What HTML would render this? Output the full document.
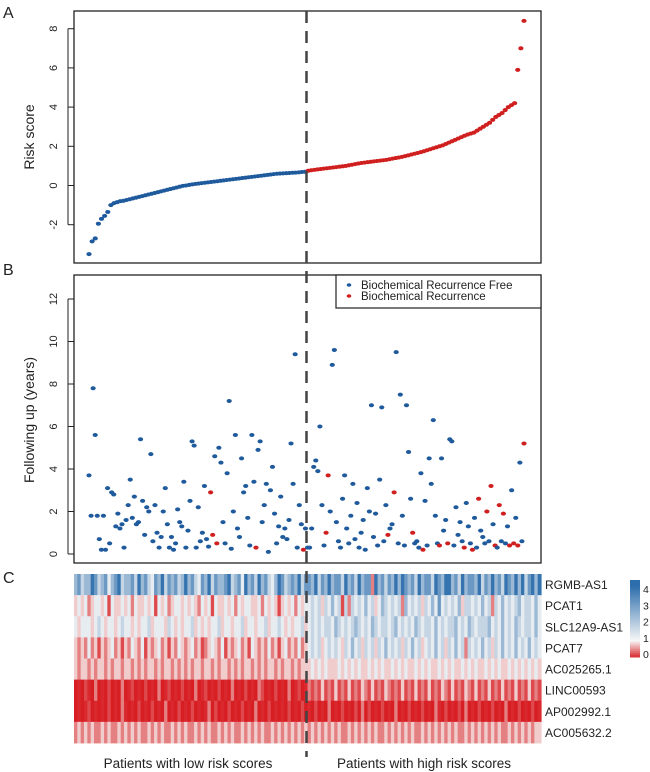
<!DOCTYPE html>
<html><head><meta charset="utf-8"><style>
body{margin:0;background:#fff;}
svg{display:block;font-family:"Liberation Sans",Arial,sans-serif;}
</style></head><body>
<svg id="fig" width="650" height="772" viewBox="0 0 650 772"></svg>
<script>
const riskLow=[-3.5,-2.85,-2.7,-1.95,-1.7,-1.55,-1.35,-1.0,-0.9,-0.85,-0.8,-0.78,-0.74,-0.7,-0.66,-0.62,-0.58,-0.54,-0.5,-0.46,-0.42,-0.38,-0.34,-0.3,-0.26,-0.22,-0.18,-0.14,-0.1,-0.06,-0.02,0.0,0.03,0.06,0.08,0.1,0.12,0.14,0.16,0.18,0.2,0.22,0.24,0.26,0.28,0.3,0.32,0.34,0.36,0.38,0.4,0.42,0.44,0.46,0.48,0.5,0.52,0.54,0.56,0.58,0.6,0.61,0.62,0.63,0.64,0.65,0.66,0.67,0.69,0.7];
const riskHigh=[0.75,0.78,0.8,0.82,0.84,0.86,0.88,0.9,0.92,0.94,0.96,0.98,1.0,1.03,1.06,1.09,1.12,1.15,1.17,1.19,1.21,1.23,1.25,1.27,1.29,1.31,1.34,1.37,1.4,1.43,1.46,1.5,1.54,1.58,1.62,1.66,1.7,1.75,1.8,1.85,1.9,1.95,2.0,2.05,2.12,2.19,2.26,2.33,2.4,2.47,2.54,2.6,2.65,2.7,2.8,2.9,3.0,3.1,3.2,3.35,3.5,3.6,3.7,3.85,4.0,4.1,4.2,5.9,7.0,8.4];
const riskTicks=[-2,0,2,4,6,8];
const followUp=[3.7,1.8,7.8,5.6,1.8,0.7,0.2,1.8,0.2,3.1,0.5,2.9,2.8,1.3,1.9,1.2,1.4,0.3,1.6,2.3,3.5,1.7,2.7,1.4,1.5,5.4,2.5,0.9,2.2,2.0,4.7,0.6,2.3,1.0,0.3,0.8,2.0,3.1,1.4,0.3,0.8,0.2,0.5,2.1,1.5,1.3,3.4,0.3,1.1,2.5,5.3,5.1,0.3,2.2,0.6,1.0,3.2,0.7,0.35,2.9,0.9,4.6,0.5,5.0,4.3,1.5,0.5,3.8,7.2,0.25,2.0,5.6,1.2,0.8,4.5,2.9,3.2,1.7,0.4,5.6,3.4,0.3,4.9,5.3,1.5,2.3,3.3,0.1,3.0,4.1,1.9,0.5,1.3,2.7,0.8,1.2,0.7,1.6,5.2,3.3,9.4,0.3,2.3,1.4,0.2,1.2,0.3,
0.3,1.2,4.1,4.4,3.9,6.0,2.3,0.4,1.0,3.7,2.0,8.9,9.6,1.5,0.6,0.3,2.6,3.7,1.2,0.5,1.8,3.3,0.7,2.4,0.3,1.0,1.6,0.2,3.1,2.0,7.0,0.8,1.9,0.4,3.5,6.9,0.6,2.3,0.9,1.2,1.4,2.9,9.5,0.5,7.5,1.8,0.4,7.0,4.8,2.6,1.0,0.5,0.6,0.3,3.8,0.2,2.5,0.4,4.5,3.3,6.3,1.8,0.5,0.4,4.5,1.1,1.6,0.5,5.4,5.3,0.4,2.2,0.9,1.5,0.6,0.3,2.4,1.3,0.5,0.2,1.7,0.3,2.6,1.1,0.8,0.5,2.0,0.6,3.2,1.4,0.4,0.3,2.3,0.6,1.9,0.5,1.3,0.4,3.0,0.5,1.7,0.4,4.3,0.6,5.2];
const recurredIdx=[59,60,62,81,104,115,116,145,148,157,162,170,174,182,186,189,193,195,197,199,201,204,206,208,211];
const followTicks=[0,2,4,6,8,10,12];
const genes=["RGMB-AS1","PCAT1","SLC12A9-AS1","PCAT7","AC025265.1","LINC00593","AP002992.1","AC005632.2"];
// expression codes: value = d*d/20
const expr=[
"7867798678578967786978658796878679786587968778967859786978657986787968"+"8796879788697869788397868797987869788698799786978879687978698797968979",
"4545345545254454535445452545345545454354525445453545544535454245453545"+"5656465756263656575645765656375656465758565657466565756365756567566575",
"5455545654554565545455645554654545564545455645545564554556455654545564"+"5656566576565676565765665675656576566575656675657656667565756576566575",
"4343534243453424354352434534243543453423454352434534254343534245343534"+"5656456565465756465646575656465756456575646575636565756465756575657565",
"4344343443434434434343443434434343434434434344343434434343443434434344"+"4545454445454545445454544545454454545445454544545454454545445454545454",
"0102103010201030120102010301201020103012010201030102010320102010301201"+"3232423242324232432423243232423242324232432423243242324232423242324232",
"0101201010201031010201020103010201020101302010201020103010201010201020"+"1020103010201020302010201030102010201031020102030102010201030102010201",
"3434343343433434343433434343343434334343433434343343434343343434343434"+"3434343434334343434343343434343433434343434343343434343434334343434344"];
const legendTicks=[0,1,2,3,4];

const NS="http://www.w3.org/2000/svg";
const svg=document.getElementById('fig');
function mk(t,a,p){const e=document.createElementNS(NS,t);for(const k in a)e.setAttribute(k,a[k]);(p||svg).appendChild(e);return e;}
const BLUE="#1f5a9c",RED="#d01f1f";
const X0=74,X1=541;
// Panel A
const aTop=11,aBot=263;
const yA=v=>185.5-(v*19.6);
const risk=riskLow.concat(riskHigh);
const xA=i=>89+i*(524-89)/(risk.length-1);
const divX=(xA(riskLow.length-1)+xA(riskLow.length))/2;
let r=mk('rect',{x:X0,y:aTop,width:X1-X0,height:aBot-aTop,fill:'none',stroke:'#222','stroke-width':1.3});

const gA=mk('g',{});
risk.forEach((v,i)=>{const c=mk('ellipse',{cx:xA(i),cy:yA(v),rx:2.6,ry:2,fill:i<riskLow.length?BLUE:RED},gA);
});
riskTicks.forEach(t=>{const y=yA(t);mk('line',{x1:X0-6,x2:X0,y1:y,y2:y,stroke:'#222'});
const tx=mk('text',{x:0,y:0,transform:`translate(57,${y}) rotate(-90)`,'text-anchor':'middle','font-size':11,fill:'#222'});tx.textContent=t;
});
mk('line',{x1:X0-6,x2:X0-6,y1:yA(-2),y2:yA(8),stroke:'#222'});
let t=mk('text',{transform:'translate(34,137) rotate(-90)','text-anchor':'middle','font-size':14,fill:'#222'});t.textContent='Risk score';

t=mk('text',{x:3,y:18,'font-size':16,fill:'#222'});t.textContent='A';
// Panel B
const bTop=275,bBot=563;
const yB=v=>554-v*21.25;
const xB=i=>89+i*(524-89)/(followUp.length-1);
r=mk('rect',{x:X0,y:bTop,width:X1-X0,height:bBot-bTop,fill:'none',stroke:'#222','stroke-width':1.3});

const gB=mk('g',{});
followUp.forEach((v,i)=>{const c=mk('ellipse',{cx:xB(i),cy:yB(v),rx:2.6,ry:2,fill:recurredIdx.includes(i)?RED:BLUE},gB);
});
followTicks.forEach(tk=>{const y=yB(tk);mk('line',{x1:X0-6,x2:X0,y1:y,y2:y,stroke:'#222'});
const tx=mk('text',{transform:`translate(57,${y}) rotate(-90)`,'text-anchor':'middle','font-size':11,fill:'#222'});tx.textContent=tk;
});
mk('line',{x1:X0-6,x2:X0-6,y1:yB(0),y2:yB(12),stroke:'#222'});
t=mk('text',{transform:'translate(34,420) rotate(-90)','text-anchor':'middle','font-size':14,fill:'#222'});t.textContent='Following up (years)';

t=mk('text',{x:3,y:275,'font-size':16,fill:'#222'});t.textContent='B';
// legend
const lg=mk('g',{});
mk('rect',{x:336,y:275,width:205,height:33,fill:'#fff',stroke:'#222','stroke-width':1.2},lg);
[["Biochemical Recurrence Free",BLUE,286],["Biochemical Recurrence",RED,297]].forEach(([s,c,y])=>{
const e=mk('g',{},lg);
mk('ellipse',{cx:349,cy:y-1,rx:2.3,ry:1.8,fill:c},e);
const tx=mk('text',{x:361,y:y+3,'font-size':11.5,fill:'#222'},e);tx.textContent=s;});
// Heatmap
const hTop=574,hBot=743,rowH=(hBot-hTop)/genes.length;
function col(v){
 if(v<=1){const f=v;return `rgb(${Math.round(215+(247-215)*f)},${Math.round(30+(247-30)*f)},${Math.round(35+(247-35)*f)})`;}
 const f=Math.min((v-1)/3.2,1);return `rgb(${Math.round(247+(45-247)*f)},${Math.round(247+(110-247)*f)},${Math.round(247+(172-247)*f)})`;}
const gH=mk('g',{});
expr.forEach((row,ri)=>{const n=row.length,w=(X1-X0)/n;
 for(let j=0;j<n;j++){const d=+row[j];const c=mk('rect',{x:X0+j*w,y:hTop+ri*rowH,width:w+0.6,height:rowH+0.4,fill:col(d*d/20)},gH);
 }
 const tx=mk('text',{x:545,y:hTop+ri*rowH+rowH/2+4.5,'font-size':12,fill:'#222'});tx.textContent=genes[ri];
 });
t=mk('text',{x:3,y:583,'font-size':16,fill:'#222'});t.textContent='C';
// colorbar
const cb=mk('g',{});
const cTop=580,cBot=657;
for(let k=0;k<40;k++){const v=4.5-k*4.5/40;mk('rect',{x:630,y:cTop+k*(cBot-cTop)/40,width:10,height:(cBot-cTop)/40+0.5,fill:col(v)},cb);}
legendTicks.forEach(v=>{const y=cBot-3-(v/4)*(cBot-3-589);const tx=mk('text',{x:643,y:y+4,'font-size':10.5,fill:'#222'},cb);tx.textContent=v;});
// bottom labels
t=mk('text',{x:188,y:768,'text-anchor':'middle','font-size':13.5,fill:'#222'});t.textContent='Patients with low risk scores';

t=mk('text',{x:424,y:768,'text-anchor':'middle','font-size':13.5,fill:'#222'});t.textContent='Patients with high risk scores';

// divider
const dl=mk('line',{x1:divX,x2:divX,y1:11,y2:757,stroke:'#444','stroke-width':2.5,'stroke-dasharray':'12,8'});

</script>
</body></html>
